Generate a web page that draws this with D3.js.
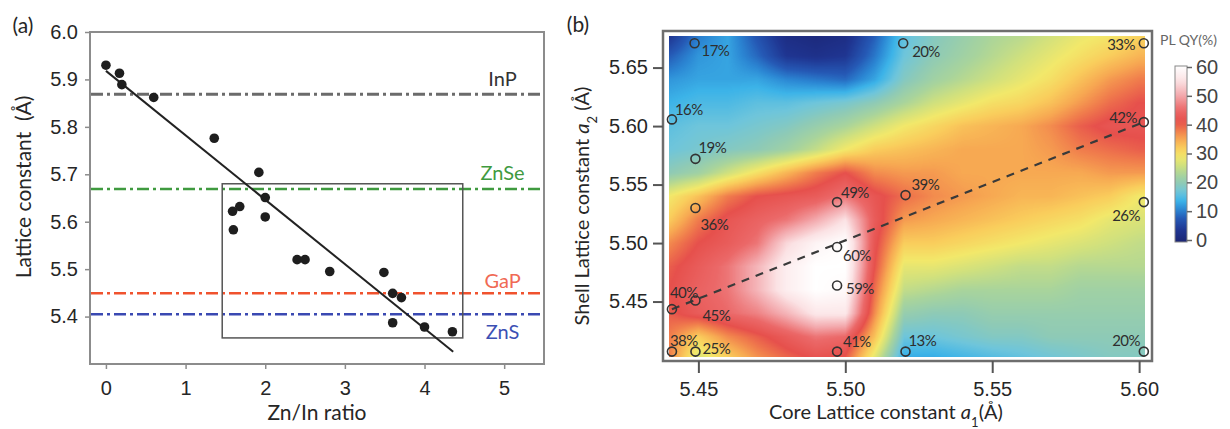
<!DOCTYPE html>
<html>
<head>
<meta charset="utf-8">
<script src="https://cdn.jsdelivr.net/npm/d3@7"></script>
<style>
  body { margin: 0; background: #fff; }
  svg { display: block; font-family: Lato, "Noto Sans", sans-serif; }
</style>
</head>
<body>
<script>
const W = 1230, H = 429;

// ---- panel (a) data
const znInRatio = [0, 0.17, 0.2, 0.6, 1.36, 1.92, 2.0, 1.59, 1.68, 1.6, 2.0, 2.4, 2.5, 2.81, 3.49, 3.6, 3.71, 3.6, 4.0, 4.35];
const latticeA  = [5.930, 5.913, 5.889, 5.862, 5.776, 5.704, 5.651, 5.622, 5.632, 5.583, 5.610, 5.520, 5.520, 5.495, 5.493, 5.449, 5.440, 5.387, 5.378, 5.368];
const fitX = [0, 4.36];
const fitY = [5.918, 5.326];
const refNames  = ["InP", "ZnSe", "GaP", "ZnS"];
const refValues = [5.869, 5.669, 5.449, 5.405];
const boxX = [1.46, 4.48];
const boxY = [5.355, 5.68];
const xTicksA = [0, 1, 2, 3, 4, 5];
const yTicksA = [5.4, 5.5, 5.6, 5.7, 5.8, 5.9, 6.0];

// ---- panel (b) data
const coreA1  = [5.4487, 5.5197, 5.6016, 5.441, 5.6016, 5.449, 5.449, 5.4972, 5.5205, 5.6016, 5.4972, 5.4972, 5.441, 5.449, 5.441, 5.449, 5.4972, 5.5205, 5.6016];
const shellA2 = [5.6708, 5.6708, 5.6708, 5.6057, 5.6034, 5.572, 5.530, 5.535, 5.541, 5.535, 5.4966, 5.4637, 5.4435, 5.4509, 5.4072, 5.4072, 5.4072, 5.4072, 5.4072];
const plqy    = [17, 20, 33, 16, 42, 19, 36, 49, 39, 26, 60, 59, 40, 45, 38, 25, 41, 13, 20];
const trendA1 = [5.441, 5.6016];
const trendA2 = [5.4435, 5.6034];
const xTicksB = [5.45, 5.50, 5.55, 5.60];
const yTicksB = [5.45, 5.50, 5.55, 5.60, 5.65];
const cbTicks = [0, 10, 20, 30, 40, 50, 60];

// colour field (rows top -> bottom)
const gridA1 = [5.44, 5.45, 5.46, 5.47, 5.48, 5.49, 5.50, 5.51, 5.52, 5.53, 5.54, 5.55, 5.56, 5.57, 5.58, 5.59, 5.60];
const gridA2 = [5.68, 5.66, 5.64, 5.62, 5.60, 5.58, 5.56, 5.54, 5.52, 5.50, 5.48, 5.46, 5.44, 5.42, 5.40];
const qyGrid = [
  [ 3, 10, 13,  7,  2,  1,  2,  8, 16, 19, 21, 23, 24, 26, 28, 29, 31],
  [ 8, 12, 13,  9,  4,  3,  4, 10, 17, 20, 22, 24, 26, 28, 30, 32, 34],
  [12, 13, 13, 13, 11, 10,  9, 13, 19, 22, 24, 26, 28, 30, 33, 36, 38],
  [14, 15, 15, 16, 16, 17, 18, 20, 23, 26, 28, 30, 31, 33, 36, 39, 41],
  [16, 17, 17, 18, 19, 21, 23, 26, 29, 31, 33, 34, 35, 37, 40, 42, 42],
  [17, 18, 19, 20, 22, 25, 29, 32, 33, 34, 35, 35, 35, 36, 38, 39, 40],
  [20, 22, 26, 30, 34, 38, 41, 37, 36, 36, 35, 35, 35, 35, 35, 36, 36],
  [29, 33, 38, 41, 42, 43, 46, 42, 39, 37, 36, 35, 34, 34, 33, 32, 29],
  [32, 38, 42, 44, 46, 50, 55, 43, 36, 35, 34, 33, 32, 31, 30, 28, 27],
  [37, 41, 43, 46, 54, 58, 60, 42, 32, 32, 31, 30, 29, 28, 27, 26, 25],
  [40, 43, 46, 51, 57, 60, 60, 41, 28, 28, 27, 26, 25, 25, 24, 24, 24],
  [41, 44, 46, 51, 57, 60, 59, 39, 25, 24, 23, 23, 23, 23, 22, 22, 22],
  [40, 43, 45, 47, 51, 56, 56, 37, 21, 20, 20, 21, 21, 21, 21, 21, 21],
  [38, 32, 37, 40, 43, 46, 45, 33, 17, 17, 18, 19, 19, 20, 20, 20, 20],
  [38, 26, 31, 36, 39, 41, 40, 27, 13, 13, 14, 15, 16, 17, 18, 19, 19]
];

// ---- styles / layout
const refColors = ["#6b6b6b", "#3f9a3f", "#f0522e", "#3a49b2"];
const refTextColors = ["#333", "#3f9a3f", "#f06a55", "#3c50b4"];
const refLabelDy = [-15, -16, -12, 18];
// label offsets for the PL QY numbers: [dx, dy, anchor]
const qyLabelPos = [
  [7, 7, "start"], [9, 8, "start"], [-9, 1, "end"], [3, -10, "start"], [-7, -4, "end"],
  [3, -11, "start"], [5, 17, "start"], [4, -9, "start"], [6, -10, "start"], [-4, 14, "end"],
  [6, 9, "start"], [9, 3, "start"], [-2, -16, "start"], [7, 15, "start"], [-2, -11, "start"],
  [7, -3, "start"], [6, -10, "start"], [3, -11, "start"], [-4, -11, "end"]
];
const cmapStops  = [0, 4, 8, 11, 14, 17, 20, 23, 26, 29, 32, 35, 38, 41, 45, 50, 55, 60];
const cmapColors = ["#1b2473", "#1f3591", "#2559b5", "#2b86d3", "#3cb3e8", "#6ec5db", "#8ecab6", "#a9d49b",
                    "#cfe07e", "#f2e86a", "#f9cd5c", "#f7a952", "#f07c4c", "#e6504c", "#eb6868", "#f3a9ad",
                    "#fbe2e4", "#ffffff"];
const ink = "#262626";

const svg = d3.select("body").append("svg").attr("width", W).attr("height", H);

// =============== panel (a)
const xA = d3.scaleLinear().domain([-0.2, 5.5]).range([90, 544]);
const yA = d3.scaleLinear().domain([5.3, 6.0]).range([364, 32]);
const gA = svg.append("g");

gA.append("rect")
    .attr("x", xA.range()[0]).attr("y", yA.range()[1])
    .attr("width", xA.range()[1] - xA.range()[0])
    .attr("height", yA.range()[0] - yA.range()[1])
    .attr("fill", "none").attr("stroke", "#8c8c8c").attr("stroke-width", 2);

const axA_y = gA.append("g").attr("transform", `translate(${xA.range()[0]},0)`)
    .call(d3.axisLeft(yA).tickValues(yTicksA).tickFormat(d3.format(".1f")).tickSize(5).tickPadding(7));
const axA_x = gA.append("g").attr("transform", `translate(0,${yA.range()[0]})`)
    .call(d3.axisBottom(xA).tickValues(xTicksA).tickFormat(d3.format("d")).tickSize(5).tickPadding(12));
[axA_y, axA_x].forEach(ax => {
    ax.select(".domain").remove();
    ax.selectAll("line").attr("stroke", "#8c8c8c").attr("stroke-width", 1.5);
    ax.selectAll("text").attr("fill", ink).style("font-size", "20px");
});

// reference lattice constants
gA.selectAll(".ref").data(refValues).join("line")
    .attr("x1", xA.range()[0] + 1).attr("x2", xA.range()[1] - 1)
    .attr("y1", d => yA(d)).attr("y2", d => yA(d))
    .attr("stroke", (d, i) => refColors[i])
    .attr("stroke-width", (d, i) => i === 0 ? 3 : 2.5)
    .attr("stroke-dasharray", "12,4,3,4");

gA.selectAll(".refl").data(refNames).join("text")
    .attr("x", xA(4.98)).attr("y", (d, i) => yA(refValues[i]) + refLabelDy[i])
    .attr("dy", "0.35em").attr("text-anchor", "middle")
    .attr("fill", (d, i) => refTextColors[i])
    .style("font-size", "20px").text(d => d);

gA.append("rect")
    .attr("x", xA(boxX[0])).attr("y", yA(boxY[1]))
    .attr("width", xA(boxX[1]) - xA(boxX[0]))
    .attr("height", yA(boxY[0]) - yA(boxY[1]))
    .attr("fill", "none").attr("stroke", "#555").attr("stroke-width", 1.5);

gA.append("path")
    .datum(d3.zip(fitX, fitY))
    .attr("d", d3.line().x(d => xA(d[0])).y(d => yA(d[1])))
    .attr("stroke", "#222").attr("stroke-width", 2).attr("fill", "none");

gA.selectAll(".dot").data(d3.zip(znInRatio, latticeA)).join("circle")
    .attr("cx", d => xA(d[0])).attr("cy", d => yA(d[1])).attr("r", 4.8)
    .attr("fill", "#1e1e1e");

gA.append("text").attr("x", 23).attr("y", 26).attr("dy", "0.35em").attr("text-anchor", "middle")
    .attr("fill", ink).style("font-size", "21px").text("(a)");
gA.append("text").attr("x", (xA.range()[0] + xA.range()[1]) / 2).attr("y", 413).attr("dy", "0.35em")
    .attr("text-anchor", "middle").attr("fill", ink).style("font-size", "21px").text("Zn/In ratio");
gA.append("text").attr("transform", "translate(24,187) rotate(-90)").attr("dy", "0.35em")
    .attr("text-anchor", "middle").attr("fill", ink).style("font-size", "21px")
    .attr("xml:space", "preserve").text("Lattice constant  (Å)");

// =============== panel (b)
const xB = d3.scaleLinear().domain([5.44, 5.602]).range([669, 1145]);
const yB = d3.scaleLinear().domain([5.4026, 5.677]).range([357, 36]);
const gB = svg.append("g");

const cmap = d3.scaleLinear().domain(cmapStops).range(cmapColors).clamp(true);
const lut = d3.range(0, 601).map(k => d3.rgb(cmap(k / 10)));

// fractional grid index for a position
const colIdx = d3.scaleLinear().domain(gridA1).range(gridA1.map((d, i) => i)).clamp(true);
const rowIdx = d3.scaleLinear().domain(gridA2).range(gridA2.map((d, i) => i)).clamp(true);
function qyAt(a1, a2) {
    const fi = colIdx(a1), fj = rowIdx(a2);
    const i0 = Math.min(Math.floor(fi), gridA1.length - 2), j0 = Math.min(Math.floor(fj), gridA2.length - 2);
    const tx = fi - i0, ty = fj - j0;
    const v00 = qyGrid[j0][i0], v10 = qyGrid[j0][i0 + 1], v01 = qyGrid[j0 + 1][i0], v11 = qyGrid[j0 + 1][i0 + 1];
    return (v00 * (1 - tx) + v10 * tx) * (1 - ty) + (v01 * (1 - tx) + v11 * tx) * ty;
}

const hx0 = Math.round(xB.range()[0]), hx1 = Math.round(xB.range()[1]);
const hy0 = Math.round(yB.range()[1]), hy1 = Math.round(yB.range()[0]);
const cw = hx1 - hx0, ch = hy1 - hy0;
const canvas = document.createElement("canvas");
canvas.width = cw; canvas.height = ch;
const ctx = canvas.getContext("2d");
const img = ctx.createImageData(cw, ch);
for (let j = 0; j < ch; j++) {
    const a2 = yB.invert(hy0 + j + 0.5);
    for (let i = 0; i < cw; i++) {
        const a1 = xB.invert(hx0 + i + 0.5);
        const v = Math.max(0, Math.min(60, qyAt(a1, a2)));
        const c = lut[Math.round(v * 10)];
        const p = (j * cw + i) * 4;
        img.data[p] = c.r; img.data[p + 1] = c.g; img.data[p + 2] = c.b; img.data[p + 3] = 255;
    }
}
ctx.putImageData(img, 0, 0);

// frame
gB.append("rect")
    .attr("x", xB.range()[0] - 6).attr("y", yB.range()[1] - 5)
    .attr("width", xB.range()[1] - xB.range()[0] + 13)
    .attr("height", yB.range()[0] - yB.range()[1] + 9)
    .attr("fill", "#fff").attr("stroke", "#6e6e6e").attr("stroke-width", 2.5);

gB.append("image")
    .attr("href", canvas.toDataURL())
    .attr("x", hx0).attr("y", hy0).attr("width", cw).attr("height", ch)
    .attr("preserveAspectRatio", "none");

const axB_y = gB.append("g").attr("transform", `translate(${xB.range()[0] - 6},0)`)
    .call(d3.axisLeft(yB).tickValues(yTicksB).tickFormat(d3.format(".2f")).tickSize(10).tickPadding(5));
const axB_x = gB.append("g").attr("transform", `translate(0,${yB.range()[0] + 4})`)
    .call(d3.axisBottom(xB).tickValues(xTicksB).tickFormat(d3.format(".2f")).tickSize(12).tickPadding(9));
[axB_y, axB_x].forEach(ax => {
    ax.select(".domain").remove();
    ax.selectAll("line").attr("stroke", "#555").attr("stroke-width", 2);
    ax.selectAll("text").attr("fill", ink).style("font-size", "20px");
});

// trend line
gB.append("path")
    .datum(d3.zip(trendA1, trendA2))
    .attr("d", d3.line().x(d => xB(d[0])).y(d => yB(d[1])))
    .attr("stroke", "#3a3a3a").attr("stroke-width", 2.2).attr("stroke-dasharray", "8,7").attr("fill", "none");

gB.selectAll(".pt").data(plqy).join("circle")
    .attr("cx", (d, i) => xB(coreA1[i])).attr("cy", (d, i) => yB(shellA2[i])).attr("r", 4.5)
    .attr("fill", "none").attr("stroke", "#333").attr("stroke-width", 1.6);

gB.selectAll(".ptl").data(plqy).join("text")
    .attr("x", (d, i) => xB(coreA1[i]) + qyLabelPos[i][0])
    .attr("y", (d, i) => yB(shellA2[i]) + qyLabelPos[i][1])
    .attr("dy", "0.35em").attr("text-anchor", (d, i) => qyLabelPos[i][2])
    .attr("fill", "#2e2e2e").style("font-size", "15px").style("letter-spacing", "-0.6px")
    .text(d => d + "%");

// colour bar
const yCb = d3.scaleLinear().domain([0, 60]).range([240, 67]);
const grad = svg.append("defs").append("linearGradient").attr("id", "cbg")
    .attr("x1", 0).attr("y1", 1).attr("x2", 0).attr("y2", 0);
grad.selectAll("stop").data(d3.range(0, 61, 2)).join("stop")
    .attr("offset", d => d / 60).attr("stop-color", d => cmap(d));
gB.append("rect").attr("x", 1175).attr("y", yCb(60) - 1).attr("width", 12)
    .attr("height", yCb(0) - yCb(60) + 3)
    .attr("fill", "url(#cbg)").attr("stroke", "#888").attr("stroke-width", 1);
const axCb = gB.append("g").attr("transform", "translate(1187,0)")
    .call(d3.axisRight(yCb).tickValues(cbTicks).tickSize(5).tickPadding(4));
axCb.select(".domain").remove();
axCb.selectAll("line").attr("stroke", "#666").attr("stroke-width", 1.5);
axCb.selectAll("text").attr("fill", "#444").style("font-size", "20px");
gB.append("text").attr("x", 1160).attr("y", 40).attr("dy", "0.35em")
    .attr("fill", "#666").style("font-size", "14px").text("PL QY(%)");

gB.append("text").attr("x", 578).attr("y", 25).attr("dy", "0.35em").attr("text-anchor", "middle")
    .attr("fill", ink).style("font-size", "21px").text("(b)");

const tY = gB.append("text").attr("transform", "translate(582,206) rotate(-90)").attr("dy", "0.35em")
    .attr("text-anchor", "middle").attr("fill", ink).style("font-size", "20px");
tY.append("tspan").text("Shell Lattice constant ");
tY.append("tspan").style("font-style", "italic").text("a");
tY.append("tspan").attr("baseline-shift", "sub").style("font-size", "13px").text("2");
tY.append("tspan").text(" (Å)");

const tX = gB.append("text").attr("x", 886).attr("y", 412).attr("dy", "0.35em")
    .attr("text-anchor", "middle").attr("fill", ink).style("font-size", "20px");
tX.append("tspan").text("Core Lattice constant ");
tX.append("tspan").style("font-style", "italic").text("a");
tX.append("tspan").attr("baseline-shift", "sub").style("font-size", "13px").text("1");
tX.append("tspan").text("(Å)");
</script>
</body>
</html>
